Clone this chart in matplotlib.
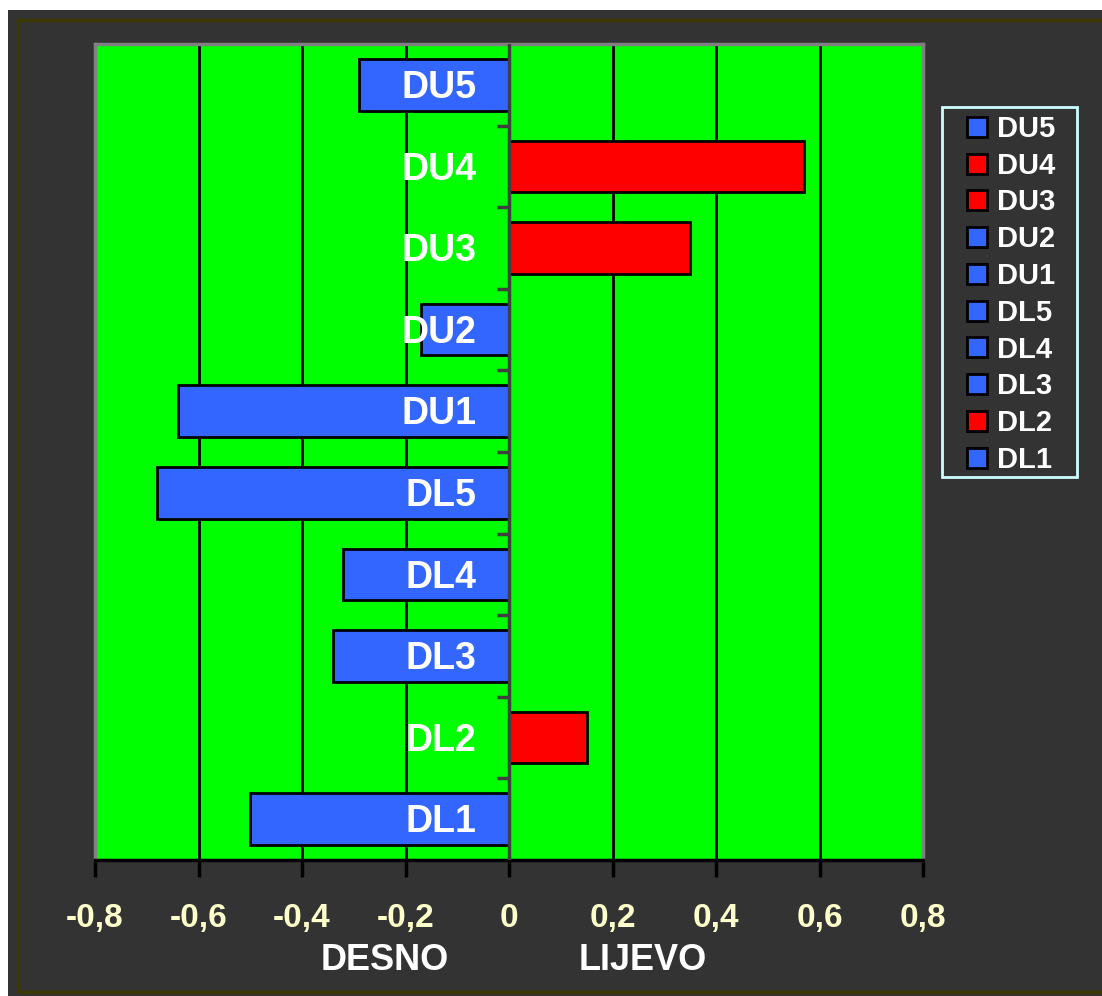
import matplotlib.pyplot as plt
from matplotlib.patches import Rectangle
from matplotlib.lines import Line2D
import numpy as np

# podaci: od dna prema vrhu
categories = ["DL1", "DL2", "DL3", "DL4", "DL5", "DU1", "DU2", "DU3", "DU4", "DU5"]
values = [-0.50, 0.15, -0.34, -0.32, -0.68, -0.64, -0.17, 0.35, 0.57, -0.29]
xticks = [-0.8, -0.6, -0.4, -0.2, 0, 0.2, 0.4, 0.6, 0.8]
xtick_labels = ["-0,8", "-0,6", "-0,4", "-0,2", "0", "0,2", "0,4", "0,6", "0,8"]

BLUE = "#3366ff"
RED = "#ff0000"
bar_colors = [RED if v > 0 else BLUE for v in values]

plt.rcParams['font.family'] = ['Liberation Sans', 'DejaVu Sans']
plt.rcParams['font.weight'] = 'bold'

W, H = 1102, 996
fig = plt.figure(figsize=(W / 100, H / 100), dpi=100)
fig.patch.set_facecolor('white')

# tamna pozadina s maslinastim okvirom
fig.patches.append(Rectangle((8 / W, 0), 1, 1 - 10 / H, transform=fig.transFigure,
                             facecolor='#333333', edgecolor='none', zorder=-3))
fig.patches.append(Rectangle((18 / W, 4 / H), 1.1, 1 - 24 / H, transform=fig.transFigure,
                             facecolor='none', edgecolor='#3b3800', linewidth=2.5, zorder=-2))

ax = fig.add_axes([95 / W, 1 - 860 / H, 828 / W, 816 / H])
ax.set_facecolor('#00ff00')

y = np.arange(len(categories))
ax.barh(y, values, height=0.63, color=bar_colors, edgecolor='black', linewidth=2, zorder=3)

ax.set_xlim(-0.8, 0.8)
ax.set_ylim(-0.5, len(categories) - 0.5)

# okomite linije mreže
for gx in [-0.6, -0.4, -0.2, 0.2, 0.4, 0.6]:
    ax.axvline(gx, color='black', linewidth=2, zorder=1)

# os y na nuli s crticama između kategorija
ax.axvline(0, color='#404040', linewidth=2.5, zorder=4)
for b in np.arange(0.5, len(categories) - 0.5, 1):
    ax.plot([-0.024, 0], [b, b], color='#404040', linewidth=2.5, zorder=4,
            solid_capstyle='butt')

# oznake kategorija uz os
for yi, name in zip(y, categories):
    ax.text(-0.063, yi - 0.04, name, ha='right', va='center', color='white',
            fontsize=27, fontweight='bold', zorder=5)

ax.set_yticks([])
ax.set_xticks(xticks)
ax.set_xticklabels(xtick_labels, color='#ffffcc', fontsize=24, fontweight='bold')
ax.tick_params(axis='x', length=12, width=2.5, color='black', pad=19)

for side in ['left', 'top', 'right']:
    ax.spines[side].set_color('#808080')
    ax.spines[side].set_linewidth(2.5)
ax.spines['bottom'].set_color('black')
ax.spines['bottom'].set_linewidth(2.5)

fig.text(385 / W, 1 - 960 / H, "DESNO", ha='center', va='center',
         color='white', fontsize=26, fontweight='bold')
fig.text(643 / W, 1 - 960 / H, "LIJEVO", ha='center', va='center',
         color='white', fontsize=26, fontweight='bold')

# okvir legende
fig.patches.append(Rectangle((942 / W, 1 - 477 / H), 135 / W, 370 / H,
                             transform=fig.transFigure, facecolor='#333333',
                             edgecolor='#ccffff', linewidth=2, zorder=2))

# legenda, od vrha prema dnu
handles = [Line2D([], [], marker='s', linestyle='none', markersize=15,
                  markerfacecolor=c, markeredgecolor='black', markeredgewidth=2)
           for c in bar_colors[::-1]]
leg = fig.legend(handles, categories[::-1], loc='upper left',
                 bbox_to_anchor=(962 / W, 1 - 115 / H), frameon=False,
                 fontsize=21, labelspacing=0.3, handlelength=1.0,
                 handletextpad=0.2, borderpad=0.0, borderaxespad=0)
leg.set_zorder(3)
for t in leg.get_texts():
    t.set_color('white')
    t.set_fontweight('bold')

fig.savefig('out.png', dpi=100, facecolor=fig.get_facecolor())
